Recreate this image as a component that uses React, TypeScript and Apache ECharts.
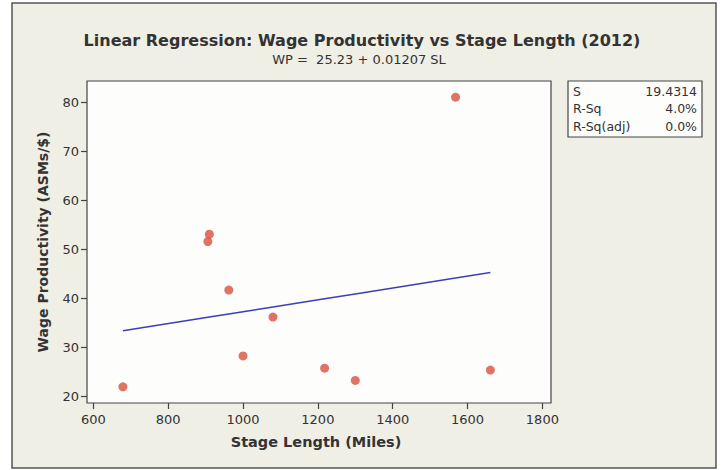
import React, { useEffect, useRef } from "react";
import * as echarts from "echarts";

const stageLength = [679, 906, 910, 962, 1000, 1080, 1218, 1300, 1568, 1661];
const wageProductivity = [22.0, 51.6, 53.1, 41.7, 28.3, 36.2, 25.8, 23.3, 81.0, 25.4];
const intercept = 25.23;
const slope = 0.01207;
const xTicks = [600, 800, 1000, 1200, 1400, 1600, 1800];
const yTicks = [20, 30, 40, 50, 60, 70, 80];
const statLabels = ["S", "R-Sq", "R-Sq(adj)"];
const statValues = ["19.4314", "4.0%", "0.0%"];

const FONT = "DejaVu Sans";

export default function App() {
  const ref = useRef<HTMLDivElement>(null);
  useEffect(() => {
    if (!ref.current) return;
    const chart = echarts.init(ref.current, undefined, { renderer: "svg" });
    const sorted = [...stageLength].sort((a, b) => a - b);
    const fitLine = sorted.map((x) => [x, intercept + slope * x]);
    const statTexts: any[] = [];
    statLabels.forEach((l, i) => {
      statTexts.push({
        type: "text",
        x: 573,
        y: 91 + i * 17.5,
        style: { text: l, font: `12.5px "${FONT}"`, fill: "#333", textVerticalAlign: "middle" },
      });
      statTexts.push({
        type: "text",
        x: 697,
        y: 91 + i * 17.5,
        style: {
          text: statValues[i],
          font: `12.5px "${FONT}"`,
          fill: "#333",
          textAlign: "right",
          textVerticalAlign: "middle",
        },
      });
    });
    chart.setOption({
      animation: false,
      backgroundColor: "transparent",
      textStyle: { fontFamily: FONT },
      graphic: [
        {
          type: "rect",
          z: -10,
          shape: { x: 12, y: 3, width: 704, height: 465 },
          style: { fill: "#efefe6", stroke: "#555", lineWidth: 1.5 },
          silent: true,
        },
        {
          type: "text",
          x: 362,
          y: 40,
          style: {
            text: "Linear Regression: Wage Productivity vs Stage Length (2012)",
            font: `bold 16px "${FONT}"`,
            fill: "#333",
            textAlign: "center",
            textVerticalAlign: "middle",
          },
        },
        {
          type: "text",
          x: 359,
          y: 59,
          style: {
            text: "WP =  25.23 + 0.01207 SL",
            font: `13px "${FONT}"`,
            fill: "#333",
            textAlign: "center",
            textVerticalAlign: "middle",
          },
        },
        {
          type: "text",
          x: 43,
          y: 242,
          rotation: Math.PI / 2,
          style: {
            text: "Wage Productivity (ASMs/$)",
            font: `bold 14px "${FONT}"`,
            fill: "#333",
            textAlign: "center",
            textVerticalAlign: "middle",
          },
        },
        {
          type: "text",
          x: 316,
          y: 442,
          style: {
            text: "Stage Length (Miles)",
            font: `bold 14.5px "${FONT}"`,
            fill: "#333",
            textAlign: "center",
            textVerticalAlign: "middle",
          },
        },
        {
          type: "rect",
          shape: { x: 568, y: 81, width: 134, height: 56 },
          style: { fill: "#fdfdfb", stroke: "#444", lineWidth: 1.2 },
        },
        ...statTexts,
      ],
      grid: {
        left: 87,
        top: 81,
        right: 722 - 551,
        bottom: 470 - 403,
        show: true,
        backgroundColor: "#fdfdfc",
        borderColor: "#444",
        borderWidth: 1.2,
      },
      xAxis: {
        type: "value",
        min: 583,
        max: 1823,
        splitLine: { show: false },
        axisLine: { show: false },
        axisTick: {
          show: true,
          length: 6,
          customValues: xTicks,
          lineStyle: { color: "#444", width: 1.2 },
        },
        axisLabel: {
          customValues: xTicks,
          formatter: (v: number) => String(v),
          margin: 10,
          fontSize: 13,
          fontFamily: FONT,
          color: "#333",
        },
      },
      yAxis: {
        type: "value",
        min: 18.7,
        max: 84.3,
        splitLine: { show: false },
        axisLine: { show: false },
        axisTick: {
          show: true,
          length: 6,
          customValues: yTicks,
          lineStyle: { color: "#444", width: 1.2 },
        },
        axisLabel: {
          customValues: yTicks,
          formatter: (v: number) => String(v),
          margin: 8,
          fontSize: 13,
          fontFamily: FONT,
          color: "#333",
        },
      },
      series: [
        {
          type: "line",
          data: fitLine,
          symbol: "none",
          lineStyle: { color: "#3b3fb8", width: 1.5 },
          z: 2,
        },
        {
          type: "scatter",
          data: stageLength.map((x, i) => [x, wageProductivity[i]]),
          symbol: "circle",
          symbolSize: 9,
          itemStyle: { color: "#d9503e" },
          z: 3,
        },
      ],
    });
    return () => chart.dispose();
  }, []);
  return <div ref={ref} style={{ width: 722, height: 470, position: "absolute", left: 0, top: 0 }} />;
}
